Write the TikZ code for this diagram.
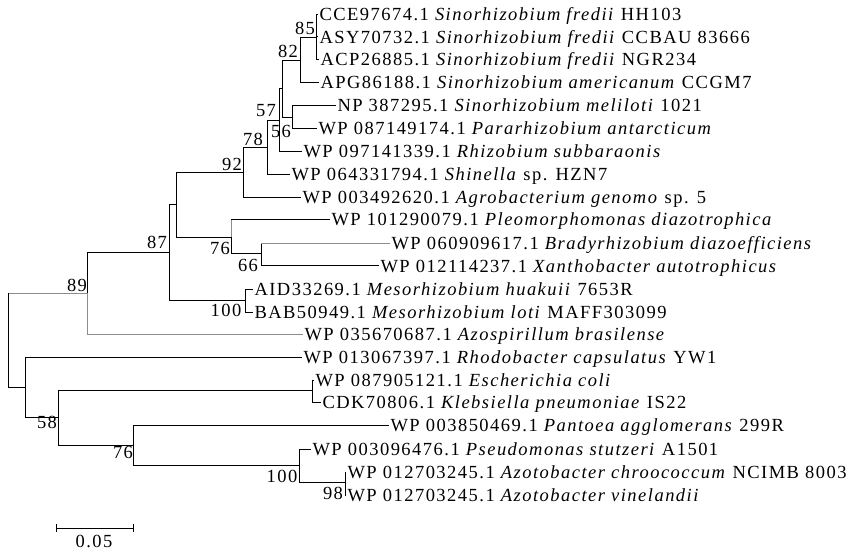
\documentclass[tikz,border=0pt]{standalone}
\usepackage{fontspec}
\setmainfont{Liberation Serif}[LetterSpace=8,ItalicFeatures={LetterSpace=8}]
\begin{document}
\begin{tikzpicture}[x=1pt,y=-1pt,line width=0.9pt,
  leaf/.style={anchor=west,inner sep=0pt,outer sep=1.5pt,font=\fontsize{18.5}{18.5}\selectfont,text height=12.2pt,text depth=0pt},
  boot/.style={inner sep=0pt,font=\fontsize{18.5}{18.5}\selectfont},
  gbr/.style={draw=black!45}]
\useasboundingbox (0,0) rectangle (855,554);
% leaves
\node[leaf] (l1) at (318,14.0) {CCE97674.1 \textit{Sinorhizobium fredii} HH103};
\node[leaf] (l2) at (318,36.9) {ASY70732.1 \textit{Sinorhizobium fredii} CCBAU 83666};
\node[leaf] (l3) at (319,59.8) {ACP26885.1 \textit{Sinorhizobium fredii} NGR234};
\node[leaf] (l4) at (319,82.7) {APG86188.1 \textit{Sinorhizobium americanum} CCGM7};
\node[leaf] (l5) at (336,105.6) {NP 387295.1 \textit{Sinorhizobium meliloti} 1021};
\node[leaf] (l6) at (317,128.5) {WP 087149174.1 \textit{Pararhizobium antarcticum}};
\node[leaf] (l7) at (302,151.4) {WP 097141339.1 \textit{Rhizobium subbaraonis}};
\node[leaf] (l8) at (290,174.3) {WP 064331794.1 \textit{Shinella} sp. HZN7};
\node[leaf] (l9) at (301,197.2) {WP 003492620.1 \textit{Agrobacterium genomo} sp. 5};
\node[leaf] (l10) at (330,219.5) {WP 101290079.1 \textit{Pleomorphomonas diazotrophica}};
\node[leaf] (l11) at (390,243.0) {WP 060909617.1 \textit{Bradyrhizobium diazoefficiens}};
\node[leaf] (l12) at (379,265.9) {WP 012114237.1 \textit{Xanthobacter autotrophicus}};
\node[leaf] (l13) at (253,289.5) {AID33269.1 \textit{Mesorhizobium huakuii} 7653R};
\node[leaf] (l14) at (253,312.2) {BAB50949.1 \textit{Mesorhizobium loti} MAFF303099};
\node[leaf] (l15) at (303,334.6) {WP 035670687.1 \textit{Azospirillum brasilense}};
\node[leaf] (l16) at (302,357.5) {WP 013067397.1 \textit{Rhodobacter capsulatus} YW1};
\node[leaf] (l17) at (314,380.4) {WP 087905121.1 \textit{Escherichia coli}};
\node[leaf] (l18) at (321,402.5) {CDK70806.1 \textit{Klebsiella pneumoniae} IS22};
\node[leaf] (l19) at (389,425.5) {WP 003850469.1 \textit{Pantoea agglomerans} 299R};
\node[leaf] (l20) at (311,449.5) {WP 003096476.1 \textit{Pseudomonas stutzeri} A1501};
\node[leaf] (l21) at (346,472.5) {WP 012703245.1 \textit{Azotobacter chroococcum} NCIMB 8003};
\node[leaf] (l22) at (346,495.0) {WP 012703245.1 \textit{Azotobacter vinelandii}};
% internal nodes
\coordinate (n85) at (316,37);
\coordinate (n82) at (300,60);
\coordinate (nNP) at (292,117);
\coordinate (n57) at (282,88);
\coordinate (n56) at (279,120);
\coordinate (n78) at (267,147);
\coordinate (n92) at (243,172);
\coordinate (nA) at (176,204);
\coordinate (n76) at (231,237);
\coordinate (n66) at (261,253);
\coordinate (nMe) at (245,300);
\coordinate (n87) at (169,252);
\coordinate (n89) at (87,293);
\coordinate (root) at (8,293);
\coordinate (nB) at (25,387);
\coordinate (n58) at (58,417);
\coordinate (nEc) at (312,390);
\coordinate (n76b) at (133,445);
\coordinate (n100) at (299,465);
\coordinate (n98) at (345,482);
% branches
\draw (n85) |- (l1.west); \draw (n85) |- (l2.west); \draw (n85) |- (l3.west);
\draw (n82) |- (n85); \draw (n82) |- (l4.west);
\draw (nNP) |- (l5.west); \draw (nNP) |- (l6.west);
\draw (n57) |- (n82); \draw (n57) |- (nNP);
\draw (n56) |- (n57); \draw (n56) |- (l7.west);
\draw (n78) |- (n56); \draw (n78) |- (l8.west);
\draw (n92) |- (n78); \draw (n92) |- (l9.west);
\draw (nA) |- (n92); \draw (nA) |- (n76);
\draw[gbr] (n76) -- (n76 |- l10.west); \draw (n76 |- l10.west) -- (l10.west);
\draw (n76) |- (n66);
\draw (n66) -- (n66 |- l11.west); \draw[gbr] (n66 |- l11.west) -- (l11.west);
\draw (n66) |- (l12.west);
\draw (nMe) |- (l13.west); \draw (nMe) |- (l14.west);
\draw (n87) |- (nA); \draw (n87) |- (nMe);
\draw (n89) |- (n87); \draw[gbr] (n89) |- (l15.west);
\draw[gbr] (root) -- (n89);
\draw (root) |- (nB);
\draw (nB) |- (l16.west); \draw (nB) |- (n58);
\draw (n58) |- (nEc); \draw (n58) |- (n76b);
\draw (nEc) |- (l17.west); \draw (nEc) |- (l18.west);
\draw (n76b) |- (l19.west); \draw (n76b) |- (n100);
\draw (n100) |- (l20.west); \draw (n100) |- (n98);
\draw (n98) |- (l21.west); \draw (n98) |- (l22.west);
% bootstrap values
\node[boot] (b85) at (305,28) {85};
\node[boot] (b82) at (288,51) {82};
\node[boot] (b57) at (266,111) {57};
\node[boot] (b56) at (281,131) {56};
\node[boot] (b78) at (253,139) {78};
\node[boot] (b92) at (232,164) {92};
\node[boot] (b87) at (157,242) {87};
\node[boot] (b76) at (220,248) {76};
\node[boot] (b66) at (248,265) {66};
\node[boot] (b100a) at (226,310) {100};
\node[boot] (b89) at (77,285) {89};
\node[boot] (b58) at (47,422) {58};
\node[boot] (b76b) at (123,452) {76};
\node[boot] (b100b) at (282,476) {100};
\node[boot] (b98) at (333,493) {98};
% scale bar
\coordinate (sbL) at (56,528);
\coordinate (sbR) at (133,528);
\draw[line width=0.8pt] (sbL) -- (sbR);
\draw[line width=0.8pt] ([yshift=-4pt]sbL) -- ([yshift=4pt]sbL);
\draw[line width=0.8pt] ([yshift=-4pt]sbR) -- ([yshift=4pt]sbR);
\node[boot] (sbt) at (94,541) {0.05};
\end{tikzpicture}
\end{document}
